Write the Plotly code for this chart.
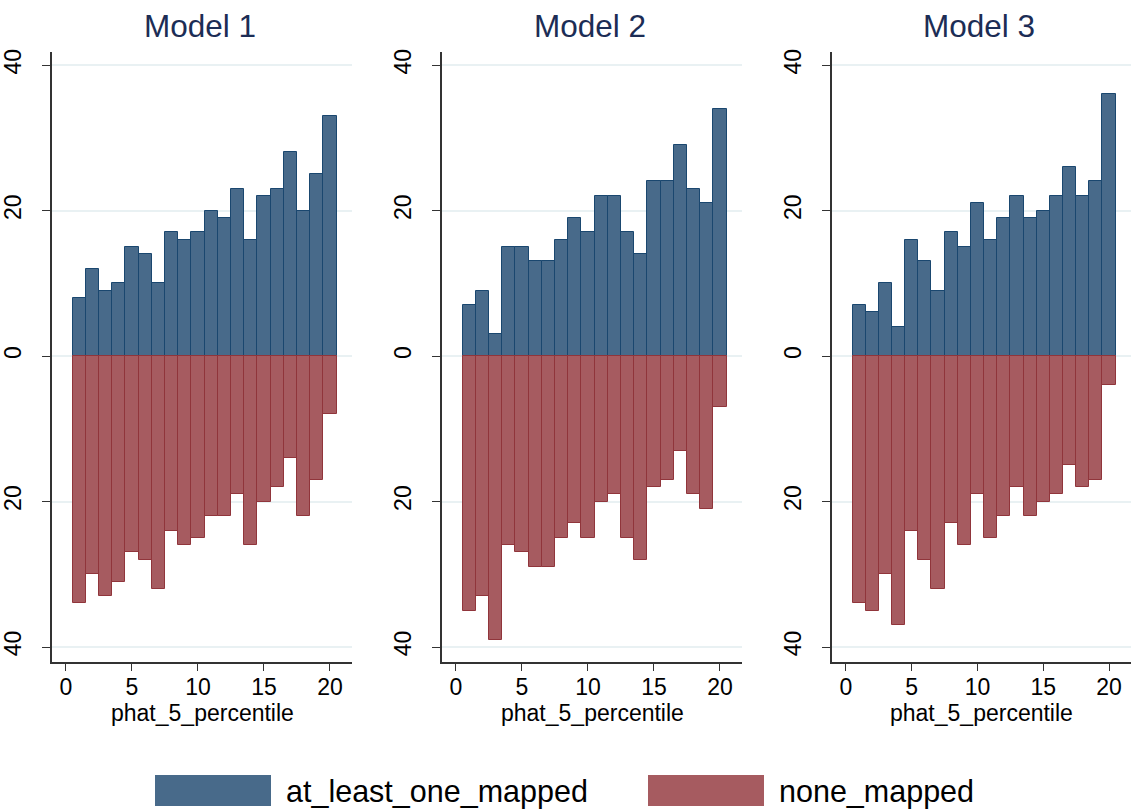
import plotly.graph_objects as go

bins = list(range(1, 21))
models = ["Model 1", "Model 2", "Model 3"]
mapped = [
    [8, 12, 9, 10, 15, 14, 10, 17, 16, 17, 20, 19, 23, 16, 22, 23, 28, 20, 25, 33],
    [7, 9, 3, 15, 15, 13, 13, 16, 19, 17, 22, 22, 17, 14, 24, 24, 29, 23, 21, 34],
    [7, 6, 10, 4, 16, 13, 9, 17, 15, 21, 16, 19, 22, 19, 20, 22, 26, 22, 24, 36],
]
none_mapped = [
    [34, 30, 33, 31, 27, 28, 32, 24, 26, 25, 22, 22, 19, 26, 20, 18, 14, 22, 17, 8],
    [35, 33, 39, 26, 27, 29, 29, 25, 23, 25, 20, 19, 25, 28, 18, 17, 13, 19, 21, 7],
    [34, 35, 30, 37, 24, 28, 32, 23, 26, 19, 25, 22, 18, 22, 20, 19, 15, 18, 17, 4],
]
series_names = ["at_least_one_mapped", "none_mapped"]
ytick_vals = [-40, -20, 0, 20, 40]
ytick_text = ["40", "20", "0", "20", "40"]
xtick_vals = [0, 5, 10, 15, 20]
xlabel = "phat_5_percentile"

BLUE_FILL = "#486a8a"
BLUE_LINE = "#1a476f"
RED_FILL = "#a65b60"
RED_LINE = "#90353b"
GRID = "#e9f1f3"
FONT = "Arial, Liberation Sans, sans-serif"

W, H = 1131, 810
panels_px = [(52, 352), (442, 742), (832, 1131)]
y_bot = 1 - 662 / H
y_top = 1 - 52 / H

fig = go.Figure()
layout = {}
annotations = []
for i in range(3):
    ax = "" if i == 0 else str(i + 1)
    fig.add_trace(go.Bar(
        x=bins, y=mapped[i], name=series_names[0], width=1,
        marker=dict(color=BLUE_FILL, line=dict(color=BLUE_LINE, width=1)),
        xaxis="x" + ax, yaxis="y" + ax, showlegend=False))
    fig.add_trace(go.Bar(
        x=bins, y=[-v for v in none_mapped[i]], name=series_names[1], width=1,
        marker=dict(color=RED_FILL, line=dict(color=RED_LINE, width=1)),
        xaxis="x" + ax, yaxis="y" + ax, showlegend=False))
    x0, x1 = panels_px[i]
    layout["xaxis" + ax] = dict(
        domain=[x0 / W, x1 / W], range=[-1.06, 21.67], anchor="y" + ax,
        tickvals=xtick_vals, ticks="outside", ticklen=7, tickwidth=1.3,
        tickcolor="#333", showline=True, linecolor="#333", linewidth=1.5,
        showgrid=False, zeroline=False, automargin=False,
        tickfont=dict(family=FONT, size=23, color="#000"),
        ticklabelstandoff=-3,
    )
    layout["yaxis" + ax] = dict(
        domain=[y_bot, y_top], range=[-42.06, 41.8], anchor="x" + ax,
        tickvals=ytick_vals, ticktext=ytick_text, tickangle=-90,
        ticks="outside", ticklen=8, tickwidth=1.3, tickcolor="#333",
        showline=True, linecolor="#333", linewidth=1.5,
        showgrid=True, gridcolor=GRID, gridwidth=1.5,
        zeroline=True, zerolinecolor=GRID, zerolinewidth=1.5, automargin=False,
        tickfont=dict(family=FONT, size=23, color="#000"),
        ticklabelstandoff=12,
    )
    # x-axis title
    annotations.append(dict(
        text=xlabel, x=(x0 + x1) / 2 / W, y=1 - 713 / H, xref="paper", yref="paper",
        xanchor="center", yanchor="middle", showarrow=False,
        font=dict(family=FONT, size=23, color="#000")))
    # panel title
    annotations.append(dict(
        text=models[i], x=(x0 + x1) / 2 / W - 0.002, y=1 - 26 / H, xref="paper", yref="paper",
        xanchor="center", yanchor="middle", showarrow=False,
        font=dict(family=FONT, size=31.5, color="#1c2d55")))

# legend drawn as key boxes + labels
shapes = []
legend_items = [(155, 271, BLUE_FILL, series_names[0]), (648, 764, RED_FILL, series_names[1])]
for lx0, lx1, col, name in legend_items:
    shapes.append(dict(type="rect", xref="paper", yref="paper",
                       x0=lx0 / W, x1=lx1 / W, y0=1 - 806 / H, y1=1 - 775 / H,
                       fillcolor=col, line=dict(width=0)))
    annotations.append(dict(
        text=name, x=(lx1 + 13) / W, y=1 - 791 / H, xref="paper", yref="paper",
        xanchor="left", yanchor="middle", showarrow=False,
        font=dict(family=FONT, size=30.5, color="#000")))

fig.update_layout(
    width=W, height=H, margin=dict(l=0, r=0, t=0, b=0, autoexpand=False),
    paper_bgcolor="white", plot_bgcolor="white",
    barmode="relative", bargap=0,
    annotations=annotations, shapes=shapes, showlegend=False,
    **layout,
)
fig.write_html("out.html")
